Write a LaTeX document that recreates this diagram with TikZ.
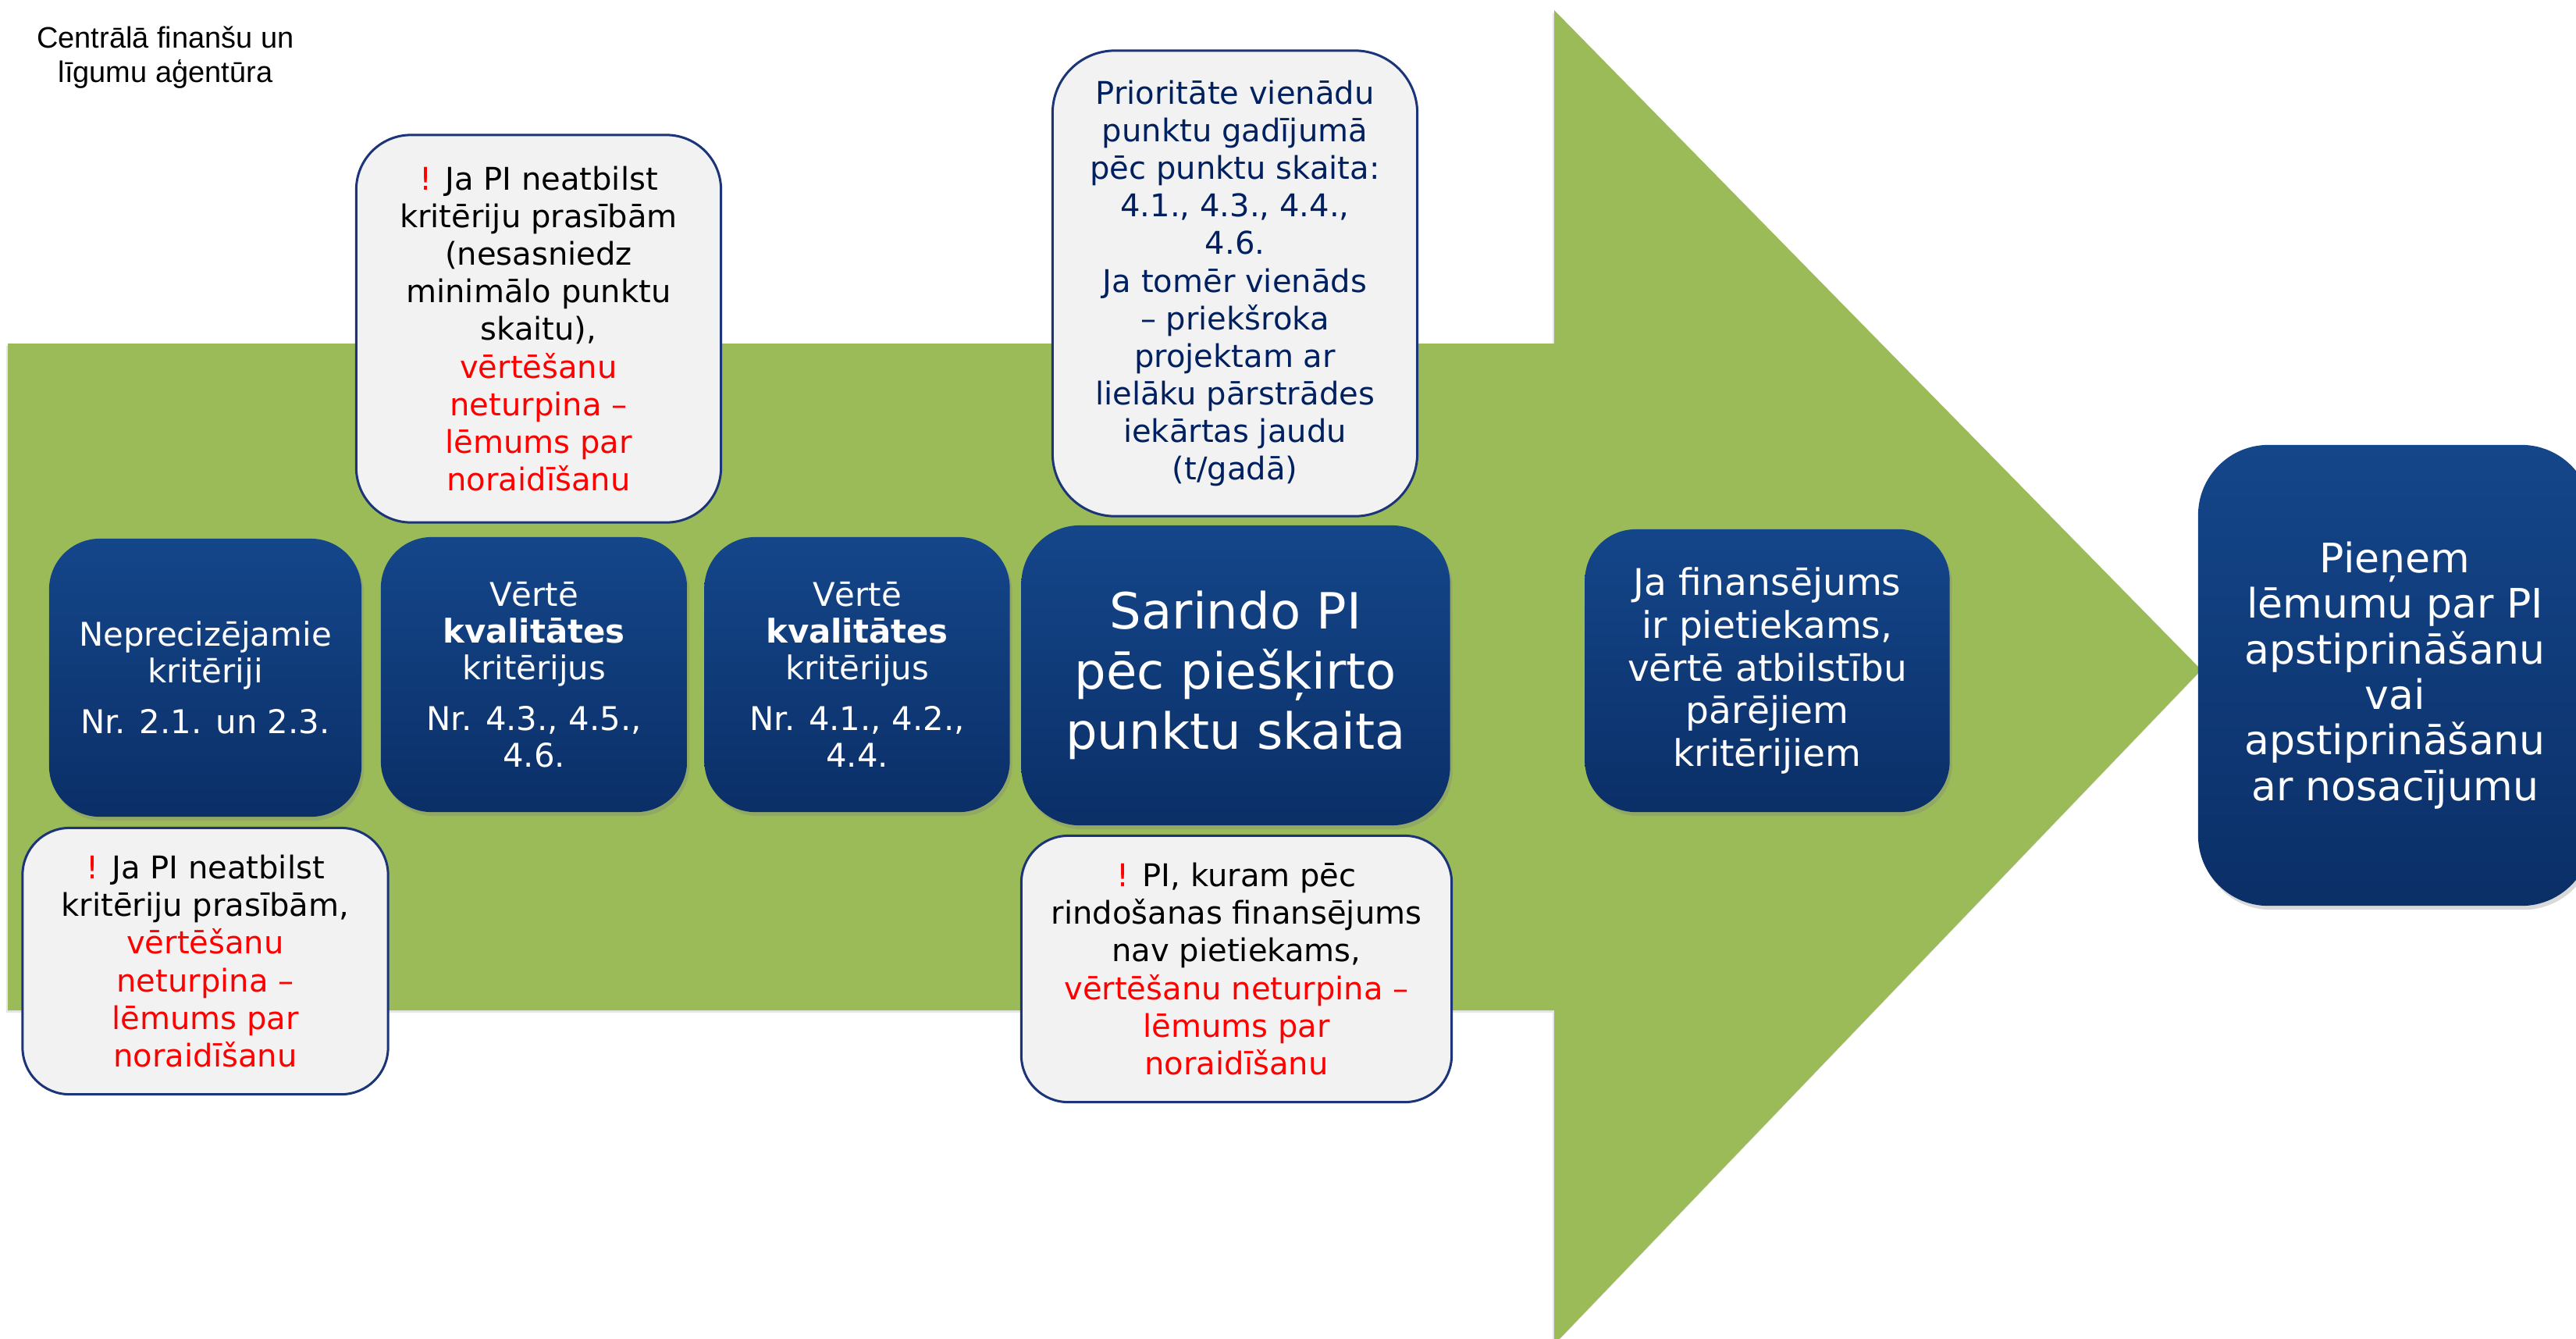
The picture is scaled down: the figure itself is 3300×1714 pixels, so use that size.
\documentclass[tikz,border=0pt]{standalone}
\usepackage{fontspec}
\setmainfont{DejaVu Sans}
\newfontfamily\hdrfont{Liberation Sans}
\usetikzlibrary{shadows}
\definecolor{arrowgreen}{HTML}{9BBB59}
\definecolor{boxtop}{RGB}{20,70,138}
\definecolor{boxbot}{RGB}{11,47,103}
\definecolor{lightfill}{HTML}{F2F2F2}
\definecolor{lightedge}{RGB}{28,52,120}
\definecolor{navytext}{RGB}{0,32,96}
\definecolor{alertred}{RGB}{255,0,0}
\newcommand\fsSmall{\fontsize{11.9pt}{13.4pt}\selectfont}
\newcommand\fsBig{\fontsize{18.2pt}{21.9pt}\selectfont}
\newcommand\fsMid{\fontsize{13.4pt}{15.6pt}\selectfont}
\newcommand\fsLast{\fontsize{14.8pt}{16.6pt}\selectfont}
\newcommand\fsNote{\fontsize{11.4pt}{13.7pt}\selectfont}
\newcommand\rd[1]{\textcolor{alertred}{#1}}
\tikzset{
  darkbox/.style={rectangle, rounded corners=0.65cm, top color=boxtop, bottom color=boxbot,
    draw=none, text=white, align=center, inner sep=0pt,
    drop shadow={shadow xshift=0.03cm, shadow yshift=-0.05cm, opacity=0.3}},
  lightbox/.style={rectangle, rounded corners=0.7cm, fill=lightfill, draw=lightedge,
    line width=0.03cm, align=center, inner sep=0pt, text=black, font=\fsNote},
}
\begin{document}
\begin{tikzpicture}[x=0.01cm, y=-0.01cm]
\useasboundingbox (0,0) rectangle (3300,1714);
% big arrow
\fill[arrowgreen, drop shadow={shadow xshift=-0.02cm, shadow yshift=-0.03cm, opacity=0.2}]
  (10,440) -- (1991,440) -- (1991,13) -- (2820,858) -- (1991,1722) -- (1991,1294) -- (10,1294) -- cycle;
% header
\node[font=\hdrfont\fontsize{10.8pt}{12.5pt}\selectfont, align=center, inner sep=0pt] (hdr) at (212,74)
  {Centrālā finanšu un\\līgumu aģentūra};
% dark boxes
\node[darkbox, minimum width=4.00cm, minimum height=3.56cm, font=\fsSmall] (n1) at (263,868)
  {Neprecizējamie\\kritēriji\\[5pt]Nr. 2.1. un 2.3.};
\node[darkbox, minimum width=3.92cm, minimum height=3.52cm, font=\fsSmall] (n2) at (684,864)
  {Vērtē\\\textbf{kvalitātes}\\kritērijus\\[5pt]Nr. 4.3., 4.5.,\\4.6.};
\node[darkbox, minimum width=3.91cm, minimum height=3.52cm, font=\fsSmall] (n3) at (1098,864)
  {Vērtē\\\textbf{kvalitātes}\\kritērijus\\[5pt]Nr. 4.1., 4.2.,\\4.4.};
\node[darkbox, rounded corners=0.75cm, minimum width=5.49cm, minimum height=3.84cm, font=\fsBig] (n4) at (1583,865)
  {Sarindo PI\\pēc piešķirto\\punktu skaita};
\node[darkbox, minimum width=4.67cm, minimum height=3.62cm, font=\fsMid] (n5) at (2264,859)
  {Ja finansējums\\ir pietiekams,\\vērtē atbilstību\\pārējiem\\kritērijiem};
\node[darkbox, rounded corners=0.9cm, minimum width=5.04cm, minimum height=5.90cm, font=\fsLast] (n6) at (3068,865)
  {Pieņem\\lēmumu par PI\\apstiprināšanu\\vai\\apstiprināšanu\\ar nosacījumu};
% light boxes
\node[lightbox, minimum width=4.67cm, minimum height=4.96cm] (a) at (690,421)
  {\rd{!} Ja PI neatbilst\\kritēriju prasībām\\(nesasniedz\\minimālo punktu\\skaitu),\\\rd{vērtēšanu}\\\rd{neturpina –}\\\rd{lēmums par}\\\rd{noraidīšanu}};
\node[lightbox, rounded corners=0.8cm, minimum width=4.67cm, minimum height=5.96cm, text=navytext] (b) at (1582,363)
  {Prioritāte vienādu\\punktu gadījumā\\pēc punktu skaita:\\4.1., 4.3., 4.4.,\\4.6.\\Ja tomēr vienāds\\– priekšroka\\projektam ar\\lielāku pārstrādes\\iekārtas jaudu\\(t/gadā)};
\node[lightbox, rounded corners=0.6cm, minimum width=4.68cm, minimum height=3.41cm] (c) at (263,1231)
  {\rd{!} Ja PI neatbilst\\kritēriju prasībām,\\\rd{vērtēšanu}\\\rd{neturpina –}\\\rd{lēmums par}\\\rd{noraidīšanu}};
\node[lightbox, rounded corners=0.6cm, minimum width=5.51cm, minimum height=3.41cm] (d) at (1584,1241)
  {\rd{!} PI, kuram pēc\\rindošanas finansējums\\nav pietiekams,\\\rd{vērtēšanu neturpina –}\\\rd{lēmums par}\\\rd{noraidīšanu}};
\end{tikzpicture}
\end{document}
